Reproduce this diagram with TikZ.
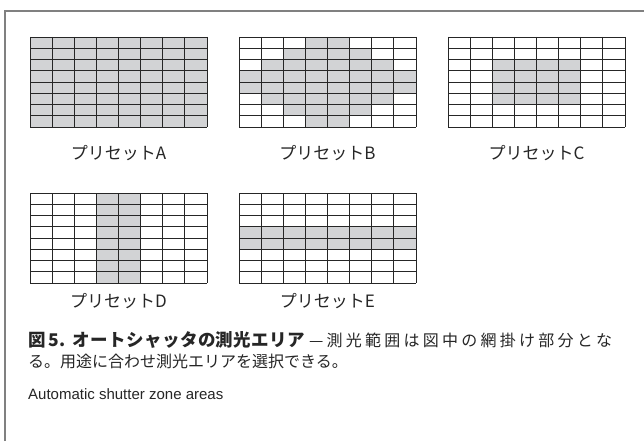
\documentclass[tikz,border=0pt]{standalone}
\usepackage{fontspec}
\setmainfont{Liberation Sans}
\newfontfamily\jsans{Noto Sans CJK JP}
\newfontfamily\lsans{Liberation Sans}
\definecolor{zonegray}{RGB}{210,211,213}
\definecolor{framegray}{RGB}{128,128,128}
\newcommand{\cw}{22.125}
\newcommand{\ch}{11.25}
\newcommand{\zonefill}[6]{%
  \fill[zonegray] ({#1+(#3-1)*\cw},{#2+(#5-1)*\ch}) rectangle ({#1+#4*\cw},{#2+#6*\ch});}
\newcommand{\zonegrid}[2]{%
  \foreach \i in {0,...,8}{%
    \draw[gridline] ({#1+\i*\cw},#2) -- ({#1+\i*\cw},{#2+8*\ch});
    \draw[gridline] (#1,{#2+\i*\ch}) -- ({#1+8*\cw},{#2+\i*\ch});
  }}
\tikzset{
  gridline/.style={line width=0.9pt,black!85},
  lbl/.style={font=\jsans\fontsize{17}{20}\selectfont,text=black!85,inner sep=0pt},
  capline/.style={inner sep=0pt,anchor=west,text=black!85},
}
\begin{document}
\begin{tikzpicture}[x=1pt,y=-1pt]
\useasboundingbox (0,0) rectangle (644,441);
\fill[white] (0,0) rectangle (644,441);
% frame
\draw[framegray,line width=1.2pt] (5,441) -- (5,11) -- (644,11);
% shaded cells
\zonefill{30}{37}{1}{8}{1}{8}
\zonefill{239}{37}{4}{5}{1}{1}
\zonefill{239}{37}{3}{6}{2}{2}
\zonefill{239}{37}{2}{7}{3}{3}
\zonefill{239}{37}{1}{8}{4}{5}
\zonefill{239}{37}{2}{7}{6}{6}
\zonefill{239}{37}{3}{6}{7}{7}
\zonefill{239}{37}{4}{5}{8}{8}
\zonefill{448}{37}{3}{6}{3}{6}
\zonefill{30}{193}{4}{5}{1}{8}
\zonefill{239}{193}{1}{8}{4}{5}
% grids
\zonegrid{30}{37}
\zonegrid{239}{37}
\zonegrid{448}{37}
\zonegrid{30}{193}
\zonegrid{239}{193}
% labels
\node[lbl] (labA) at (118.5,153) {プリセットA};
\node[lbl] (labB) at (327.5,153) {プリセットB};
\node[lbl] (labC) at (536.5,153) {プリセットC};
\node[lbl] (labD) at (118.5,301) {プリセットD};
\node[lbl] (labE) at (327.5,301) {プリセットE};
% caption
\node[capline] (cap1a) at (28,340) {\jsans\bfseries\fontsize{17.5}{21}\selectfont\makebox[277pt][s]{図\hspace{3pt}5.\hspace{7pt}オ\hfil ー\hfil ト\hfil シ\hfil ャ\hfil ッ\hfil タ\hfil の\hfil 測\hfil 光\hfil エ\hfil リ\hfil ア}};
\node[capline] (cap1b) at (309,340) {\jsans\fontsize{16}{19}\selectfont\makebox[303pt][s]{—\hfil 測\hfil 光\hfil 範\hfil 囲\hfil は\hfil 図\hfil 中\hfil の\hfil 網\hfil 掛\hfil け\hfil 部\hfil 分\hfil と\hfil な}};
\node[capline] (cap2) at (28,361) {\jsans\fontsize{16}{19}\selectfont る。用途に合わせ測光エリアを選択できる。};
\node[capline] (cap3) at (28,394) {\lsans\fontsize{15}{18}\selectfont Automatic shutter zone areas};
\end{tikzpicture}
\end{document}
